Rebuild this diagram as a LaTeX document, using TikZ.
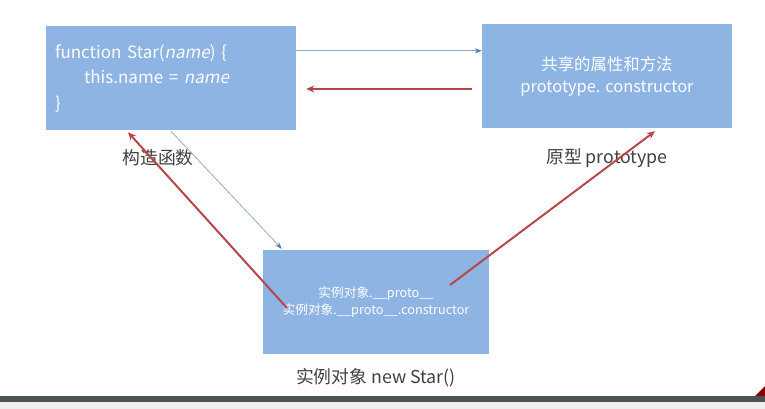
\documentclass[tikz,border=0pt]{standalone}
\usepackage{fontspec}
\setmainfont{Noto Sans CJK SC}[AutoFakeSlant=0.2]
\usepackage{xcolor}
\usetikzlibrary{positioning}
\usetikzlibrary{arrows.meta}
\definecolor{boxblue}{HTML}{8EB4E3}
\definecolor{linered}{HTML}{B5474A}
\definecolor{lineblue}{HTML}{92ABCB}
\definecolor{tipblue}{HTML}{4A7EBB}
\definecolor{labelgray}{HTML}{404040}
\definecolor{bardark}{HTML}{4D5352}
\definecolor{barlight}{HTML}{EEEEEE}
\begin{document}
\begin{tikzpicture}[x=1pt,y=-1pt,
    box/.style={fill=boxblue, inner sep=0pt, text=white, minimum height=104pt},
    caption/.style={text=labelgray, font=\fontsize{17.8}{20}\selectfont},
    redline/.style={linered, line width=2pt, -{Stealth[length=8pt,width=7pt]}},
    blueline/.style={lineblue, line width=0.8pt, -{Stealth[length=7pt,width=5pt,color=tipblue]}}]
    \useasboundingbox (0,0) rectangle (765,409);
    % 绘制三个方框
    \node[box, minimum width=250pt, text width=232pt, align=left,
          font=\fontsize{17}{25.5}\selectfont] (fn) at (171,78)
        {function Star(\textit{name}) \{\\
         \hspace*{29pt}this.name = \textit{name}\\
         \}};
    \node[box, minimum width=250pt, align=center,
          font=\fontsize{16.4}{22}\selectfont] (proto) at (607,76)
        {共享的属性和方法\\prototype. constructor};
    \node[box, minimum width=226pt, align=center,
          font=\fontsize{12.7}{17}\selectfont] (inst) at (376,302)
        {实例对象.\_\_proto\_\_\\实例对象.\_\_proto\_\_.constructor};
    % 标注文字
    \node[caption, below=16pt of fn.south, xshift=-13pt] (fnlabel) {构造函数};
    \node[caption, below=17pt of proto.south] (protolabel) {原型 prototype};
    \node[caption, below=11pt of inst.south] (instlabel) {实例对象 new Star()};
    % 绘制箭头
    \draw[blueline] ([yshift=-25pt]fn.north east) -- ([yshift=-27pt]proto.north west);
    \draw[redline] ([shift={(-10,13)}]proto.west) -- ([shift={(10,11)}]fn.east);
    \draw[blueline] ([yshift=-1pt]fn.south) -- ([shift={(19,-1)}]inst.north west);
    \draw[redline] ([shift={(-89,6)}]inst.center) -- ([shift={(-43,2)}]fn.south);
    \draw[redline] ([shift={(74,-17)}]inst.center) -- ([shift={(48,3)}]proto.south);
    % 底部的条
    \fill[bardark] (0,396) rectangle (765,402);
    \fill[barlight] (0,402) rectangle (765,409);
    \fill[red!55!black] (755,396) -- (765,386) -- (765,396) -- cycle;
\end{tikzpicture}
\end{document}
